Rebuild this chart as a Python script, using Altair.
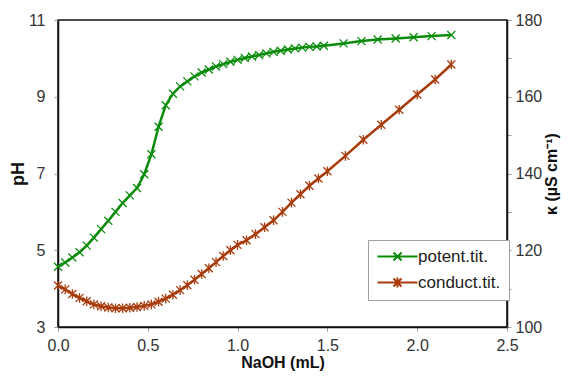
import altair as alt
import pandas as pd

# ---- data ----
naoh_ph = [0.00, 0.04, 0.08, 0.12, 0.16, 0.20, 0.24, 0.28, 0.32, 0.36, 0.40, 0.44,
           0.48, 0.52, 0.56, 0.60, 0.64, 0.68, 0.72, 0.76, 0.80, 0.84, 0.88, 0.92,
           0.96, 1.00, 1.04, 1.08, 1.12, 1.16, 1.20, 1.24, 1.28, 1.32, 1.36, 1.40,
           1.44, 1.48, 1.59, 1.69, 1.78, 1.88, 1.98, 2.08, 2.19]
ph = [4.57, 4.68, 4.81, 4.95, 5.12, 5.33, 5.55, 5.77, 6.00, 6.23, 6.43, 6.62,
      6.98, 7.50, 8.22, 8.78, 9.08, 9.27, 9.40, 9.53, 9.63, 9.71, 9.79, 9.85,
      9.91, 9.96, 10.01, 10.05, 10.09, 10.13, 10.17, 10.20, 10.23, 10.26, 10.28, 10.30,
      10.31, 10.33, 10.39, 10.45, 10.49, 10.52, 10.55, 10.58, 10.61]

naoh_k = [0.00, 0.04, 0.08, 0.12, 0.16, 0.20, 0.24, 0.28, 0.32, 0.36, 0.40, 0.44,
          0.48, 0.52, 0.56, 0.60, 0.64, 0.68, 0.72, 0.76, 0.80, 0.84, 0.88, 0.92,
          0.96, 1.00, 1.05, 1.10, 1.15, 1.20, 1.25, 1.30, 1.35, 1.40, 1.45, 1.50,
          1.60, 1.70, 1.80, 1.90, 2.00, 2.10, 2.19]
kappa = [110.8, 109.8, 108.6, 107.6, 106.7, 105.9, 105.4, 105.1, 104.9, 104.9, 105.0, 105.2,
         105.5, 105.9, 106.6, 107.4, 108.4, 109.6, 110.9, 112.3, 113.8, 115.3, 116.9, 118.5,
         120.0, 121.4, 122.6, 124.2, 126.0, 127.8, 130.0, 132.4, 134.6, 136.8, 138.7, 140.6,
         144.6, 148.8, 152.7, 156.6, 160.6, 164.5, 168.4]

series = ["potent.tit.", "conduct.tit."]
colors = ["#0a8c0a", "#a83c0c"]

x_ticks = [0.0, 0.5, 1.0, 1.5, 2.0, 2.5]
ph_ticks = [3, 5, 7, 9, 11]
k_ticks = [100, 110, 120, 130, 140, 150, 160, 170, 180]

# marker shapes
X_MARK = "M-1,-1L1,1M-1,1L1,-1"
AST_MARK = "M-1,-1L1,1M-1,1L1,-1M0,-1.2L0,1.2"
X_LEG = "M-4,0L4,0M-0.8,-0.8L0.8,0.8M-0.8,0.8L0.8,-0.8"
AST_LEG = "M-4,0L4,0M-0.8,-0.8L0.8,0.8M-0.8,0.8L0.8,-0.8M0,-1L0,1"

FONT = "Liberation Sans"

dfp = pd.DataFrame({"x": naoh_ph, "y": ph})
dfk = pd.DataFrame({"x": naoh_k, "y": kappa})
dfl = pd.DataFrame({"s": series})

xenc = alt.X("x:Q", scale=alt.Scale(domain=[0, 2.5], nice=False),
             axis=alt.Axis(values=x_ticks, format=".1f", title="NaOH (mL)",
                           labelPadding=6, titleY=40, titleBaseline="alphabetic",
                           titleFontSize=16, labelFlush=False))

y_ph = alt.Y("y:Q", scale=alt.Scale(domain=[3, 11], nice=False, zero=False),
             axis=alt.Axis(orient="left", values=ph_ticks, title="pH",
                           labelPadding=9, titleX=-31, titleBaseline="bottom",
                           labelFlush=False))

y_k = alt.Y("y:Q", scale=alt.Scale(domain=[100, 180], nice=False, zero=False),
            axis=alt.Axis(orient="right", values=k_ticks,
                          labelExpr="datum.value % 20 == 0 ? datum.label : ''",
                          title="κ (µS cm⁻¹)", titleAngle=270, titleBaseline="top",
                          titleFontSize=16, labelPadding=4, titlePadding=2,
                          labelFlush=False))

g_line = alt.Chart(dfp).mark_line(color=colors[0], strokeWidth=2.5).encode(x=xenc, y=y_ph)
g_pts = alt.Chart(dfp).mark_point(shape=X_MARK, size=64, color=colors[0], filled=False,
                                  strokeWidth=1.3, opacity=1).encode(x=xenc, y=y_ph)

leg_kw = dict(title=None, orient="none", legendX=310, legendY=220)
legend_layer = alt.Chart(dfl).transform_filter("false").mark_point(
    filled=False, size=100, strokeWidth=2, opacity=1
).encode(
    color=alt.Color("s:N", scale=alt.Scale(domain=series, range=colors), legend=alt.Legend(**leg_kw)),
    shape=alt.Shape("s:N", scale=alt.Scale(domain=series, range=[X_LEG, AST_LEG]), legend=alt.Legend(**leg_kw)),
)

b_line = alt.Chart(dfk).mark_line(color=colors[1], strokeWidth=2.5).encode(x=xenc, y=y_k)
b_pts = alt.Chart(dfk).mark_point(shape=AST_MARK, size=64, color=colors[1], filled=False,
                                  strokeWidth=1.3, opacity=1).encode(x=xenc, y=y_k)

left = alt.layer(g_line, g_pts, legend_layer)
right = alt.layer(b_line, b_pts)

chart = alt.layer(left, right).resolve_scale(y="independent").properties(
    width=449, height=307,
    padding={"left": 50, "top": 12, "right": 54, "bottom": 45},
    autosize=alt.AutoSizeParams(type="none"),
).configure_view(
    stroke="#111", strokeWidth=1.5
).configure_axis(
    labelFont=FONT, titleFont=FONT, labelFontSize=16, titleFontSize=18,
    titleFontWeight="bold", labelColor="#333", titleColor="#111",
    domainColor="#111", domainWidth=1.5, tickColor="#999", tickSize=4, grid=False,
).configure_legend(
    labelFont=FONT, labelFontSize=17, labelColor="#222", strokeColor="#a0a0a0",
    fillColor="white", padding=8, symbolSize=100, symbolStrokeWidth=2,
    labelOffset=12, symbolOffset=13, rowPadding=8,
)

chart.save("out.html", embed_options={"renderer": "svg", "actions": False})
